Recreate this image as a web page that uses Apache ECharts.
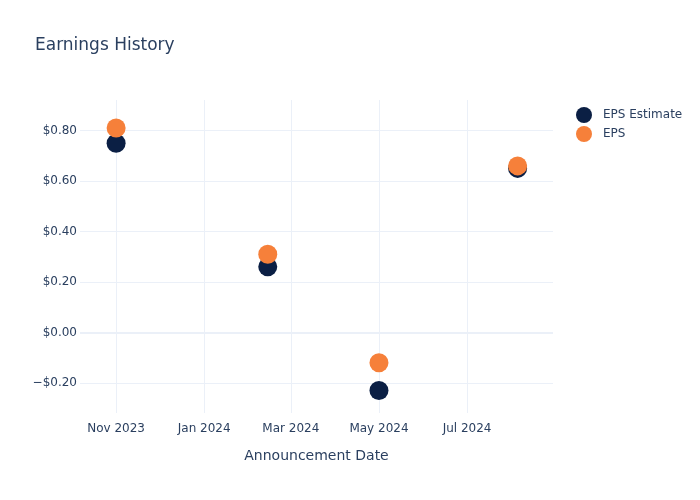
<!DOCTYPE html>
<html>
<head>
<meta charset="utf-8">
<script src="https://cdn.jsdelivr.net/npm/echarts@6/dist/echarts.min.js"></script>
<style>html,body{margin:0;padding:0;background:#fff}#c{width:700px;height:500px}</style>
</head>
<body>
<div id="c"></div>
<script>
const dates = ['2023-11-01', '2024-02-14', '2024-05-01', '2024-08-05'];
const epsEstimate = [0.75, 0.26, -0.23, 0.65];
const eps = [0.81, 0.31, -0.12, 0.66];
const xTickDates = ['2023-11-01', '2024-01-01', '2024-03-01', '2024-05-01', '2024-07-01'];
const yTicks = [-0.2, 0, 0.2, 0.4, 0.6, 0.8];
const xRange = ['2023-10-07', '2024-08-29T12:00'];
const yRange = [-0.319, 0.921];
const monthNames = ['Jan','Feb','Mar','Apr','May','Jun','Jul','Aug','Sep','Oct','Nov','Dec'];

function ts(s) {
  const [d, t] = s.split('T');
  const [y, m, dd] = d.split('-').map(Number);
  let h = 0, mi = 0;
  if (t) { [h, mi] = t.split(':').map(Number); }
  return new Date(y, m - 1, dd, h, mi).getTime();
}

const font = 'DejaVu Sans, sans-serif';
const textColor = '#2a3f5f';
const gridColor = '#ebf0f8';
const chart = echarts.init(document.getElementById('c'), null, {renderer: 'canvas'});
chart.setOption({
  animation: false,
  backgroundColor: '#fff',
  title: {
    text: 'Earnings History',
    left: 30, top: 32,
    textStyle: {fontFamily: font, fontSize: 17, fontWeight: 'normal', color: textColor}
  },
  legend: {
    orient: 'vertical',
    left: 571, top: 102,
    itemWidth: 28, itemHeight: 16, itemGap: 3,
    icon: 'circle',
    textStyle: {fontFamily: font, fontSize: 12, color: textColor},
    data: ['EPS Estimate', 'EPS']
  },
  grid: {left: 80, right: 147, top: 100, bottom: 87, containLabel: false},
  xAxis: {
    type: 'value',
    min: ts(xRange[0]), max: ts(xRange[1]),
    name: 'Announcement Date',
    nameLocation: 'middle', nameGap: 36,
    nameTextStyle: {fontFamily: font, fontSize: 14, color: textColor},
    axisLine: {show: false},
    axisTick: {show: false, customValues: xTickDates.map(ts)},
    axisLabel: {
      customValues: xTickDates.map(ts),
      margin: 10,
      fontFamily: font, fontSize: 12, color: textColor,
      formatter: v => { const d = new Date(v); return monthNames[d.getMonth()] + ' ' + d.getFullYear(); }
    },
    splitLine: {show: true, lineStyle: {color: gridColor, width: 1}}
  },
  yAxis: {
    type: 'value',
    min: yRange[0], max: yRange[1],
    axisLine: {show: false},
    axisTick: {show: false, customValues: yTicks},
    axisLabel: {
      customValues: yTicks,
      margin: 3,
      fontFamily: font, fontSize: 12, color: textColor,
      formatter: v => (v < -1e-9 ? '\u2212$' : '$') + Math.abs(v).toFixed(2)
    },
    splitLine: {show: true, lineStyle: {color: gridColor, width: 1}}
  },
  series: [
    {
      name: 'EPS Estimate', type: 'scatter', symbolSize: 19,
      itemStyle: {color: '#0b1f44', opacity: 1},
      data: dates.map((d, i) => [ts(d), epsEstimate[i]]),
      markLine: {
        silent: true, symbol: ['none', 'none'], label: {show: false},
        lineStyle: {color: gridColor, width: 2, type: 'solid'},
        data: [{yAxis: 0}], z: 0
      },
      z: 3
    },
    {
      name: 'EPS', type: 'scatter', symbolSize: 19,
      itemStyle: {color: '#f6803a', opacity: 1},
      data: dates.map((d, i) => [ts(d), eps[i]]),
      z: 4
    }
  ]
});
</script>
</body>
</html>
